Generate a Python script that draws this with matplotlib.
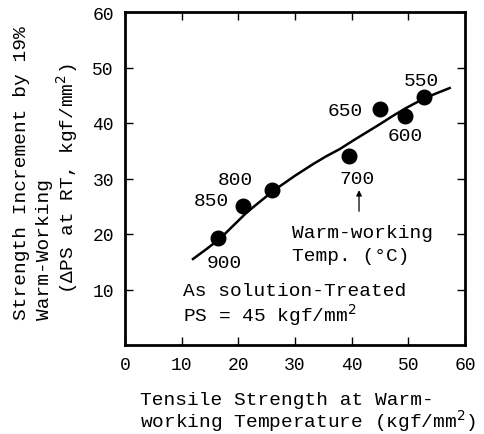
import matplotlib.pyplot as plt

plt.rcParams['font.family'] = ['Liberation Mono', 'DejaVu Sans Mono']

# measured points: tensile strength at warm-working temp vs strength increment
ts = [16.5, 20.8, 26.0, 39.6, 45.0, 49.5, 52.7]
dps = [19.3, 25.0, 28.0, 34.0, 42.5, 41.3, 44.7]
temps = ['900', '850', '800', '700', '650', '600', '550']
label_x = [17.6, 15.3, 19.4, 40.9, 38.8, 49.4, 52.3]
label_y = [14.9, 26.0, 29.9, 30.0, 42.2, 37.7, 47.7]

# trend curve
curve_x = [12.0, 14.4, 16.8, 19.2, 21.5, 23.9, 26.2, 30.0, 33.2, 35.5,
           37.9, 40.2, 42.6, 45.0, 47.3, 49.6, 52.0, 54.6, 57.3]
curve_y = [15.5, 17.3, 19.2, 21.6, 23.9, 25.9, 27.8, 30.5, 32.6, 34.0,
           35.3, 36.8, 38.3, 39.8, 41.3, 42.7, 44.0, 45.2, 46.3]

fig = plt.figure(figsize=(4.85, 4.35), dpi=100)
ax = fig.add_axes([125 / 485, 1 - 346 / 435, 340 / 485, 333 / 435])

ax.plot(curve_x, curve_y, color='black', lw=1.8)
ax.scatter(ts, dps, s=110, color='black', zorder=3)
for t, x, y in zip(temps, label_x, label_y):
    ax.text(x, y, t, fontsize=14, ha='center', va='center')

ax.annotate('', xy=(41.3, 28.4), xytext=(41.3, 23.6),
            arrowprops=dict(arrowstyle='-|>', color='black', lw=0.9,
                            mutation_scale=8))
ax.text(29.4, 20.3, 'Warm-working', fontsize=14, va='center')
ax.text(29.4, 16.1, 'Temp. (°C)', fontsize=14, va='center')
ax.text(10.2, 9.8, 'As solution-Treated', fontsize=14, va='center')
ax.text(10.2, 5.6, 'PS = 45 kgf/mm$^2$', fontsize=14, va='center')

ax.set_xlim(0, 60)
ax.set_ylim(0, 60)
ax.set_xticks(range(0, 61, 10))
ax.set_yticks(range(10, 61, 10))
ax.tick_params(direction='in', length=6, width=1, labelsize=13, pad=8,
               top=True, right=True)
for s in ax.spines.values():
    s.set_linewidth(2)

fig.text(140 / 485, 1 - 392 / 435, 'Tensile Strength at Warm-',
         fontsize=14, va='top')
fig.text(140 / 485, 1 - 434 / 435, 'working Temperature (κgf/mm$^2$)',
         fontsize=14, va='bottom')

fig.text(22 / 485, 1 - 320 / 435, 'Strength Increment by 19%',
         fontsize=14, rotation=90, ha='center', va='bottom')
fig.text(45 / 485, 1 - 320 / 435, 'Warm-Working',
         fontsize=14, rotation=90, ha='center', va='bottom')
fig.text(67 / 485, 1 - 294 / 435, '(ΔPS at RT, kgf/mm$^2$)',
         fontsize=14, rotation=90, ha='center', va='bottom')

fig.savefig('out.png', dpi=100)
